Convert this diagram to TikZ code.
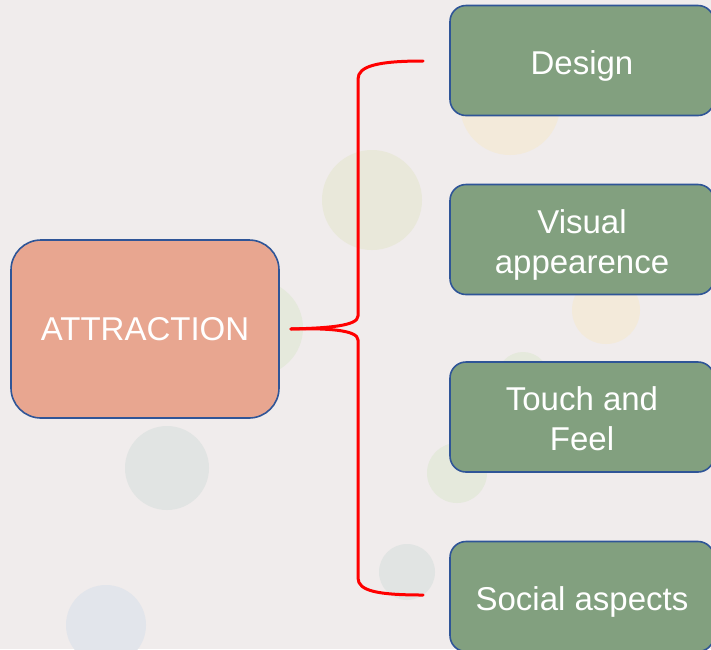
\documentclass[tikz,border=0pt]{standalone}
\usepackage{fontspec}
\setmainfont{Liberation Sans}
\begin{document}
\definecolor{bgcol}{HTML}{F0ECEC}
\definecolor{rootfill}{HTML}{E8A690}
\definecolor{leaffill}{HTML}{82A07F}
\definecolor{edgeblue}{HTML}{2F5597}
\definecolor{dotyellow}{HTML}{E9E8DA}
\definecolor{dotcream}{HTML}{F3EADA}
\definecolor{dotgreen}{HTML}{E5E9DC}
\definecolor{dotgray}{HTML}{E1E4E3}
\definecolor{dotblue}{HTML}{E2E5EB}
\begin{tikzpicture}[x=1pt,y=-1pt,
  rootbox/.style={draw=edgeblue, line width=1.6pt, fill=rootfill, rounded corners=30pt,
    minimum width=268pt, minimum height=178pt, text=white, font=\fontsize{33}{40}\selectfont},
  leafbox/.style={draw=edgeblue, line width=1.6pt, fill=leaffill, rounded corners=16pt,
    minimum width=264pt, minimum height=110pt, text=white, align=center,
    font=\fontsize{33}{40}\selectfont, text height=34pt, text depth=7pt},
  twoline/.style={text height=74pt, text depth=7pt},
  brace/.style={draw=red, line width=3pt, line cap=round, line join=round}]
  % canvas
  \fill[bgcol] (0,0) rectangle (711,649);
  \useasboundingbox (0,0) rectangle (711,649);

  % soft background dots
  \fill[dotyellow] (372,200) circle (50);
  \fill[dotcream] (510,105) circle (50);
  \fill[dotcream] (606,310) circle (34);
  \fill[dotgreen] (255,328) circle (48);
  \fill[dotgray] (167,468) circle (42);
  \fill[dotgreen] (457,473) circle (30);
  \fill[dotgreen] (523,378) circle (26);
  \fill[dotgray] (407,572) circle (28);
  \fill[dotblue] (106,625) circle (40);

  % nodes
  \node[rootbox] (attr) at (145,329) {ATTRACTION};
  \node[leafbox] (design) at (582,60.5) {Design};
  \node[leafbox, twoline] (visual) at (582,239.5) {Visual\\appearence};
  \node[leafbox, twoline] (touch) at (582,417) {Touch and\\Feel};
  \node[leafbox] (social) at (582,596.5) {Social aspects};

  % brace ends
  \coordinate (tip) at ([xshift=11pt]attr.east);
  \coordinate (btop) at ([xshift=-26pt]design.west |- 0,61);
  \coordinate (bbot) at ([xshift=-26pt]social.west |- 0,595);

  % curly brace
  \draw[brace] (tip) .. controls (328,328) and (358,326) .. (358,316)
    -- (358,79) .. controls (358,66) and (378,61) .. (btop);
  \draw[brace] (tip) .. controls (328,328) and (358,330) .. (358,340)
    -- (358,578) .. controls (358,591) and (378,595) .. (bbot);
\end{tikzpicture}
\end{document}
